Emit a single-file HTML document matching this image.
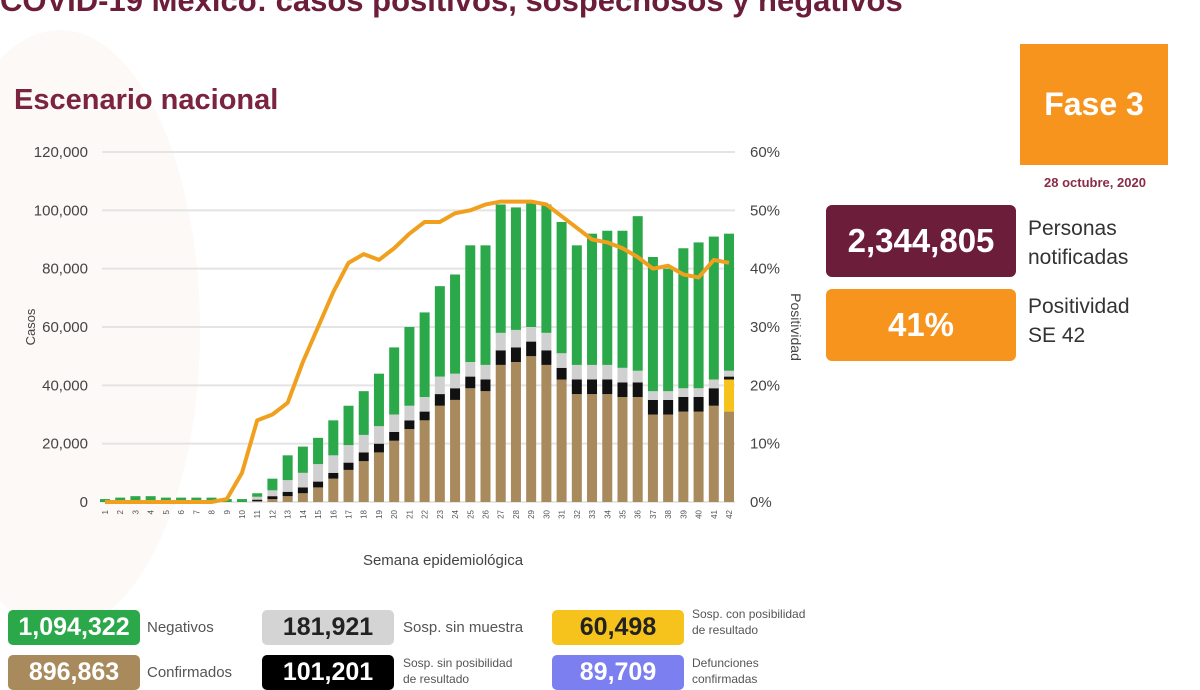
<!DOCTYPE html>
<html><head><meta charset="utf-8"><style>
html,body{margin:0;padding:0;width:1200px;height:674px;overflow:hidden;background:#fff;font-family:"Liberation Sans",sans-serif}
.abs{position:absolute}
.box{position:absolute;border-radius:5px;color:#fff;font-weight:bold;text-align:center;font-size:25px;line-height:35px;height:35px;width:132px}
.lab{position:absolute;font-size:15px;color:#555}
.sm{position:absolute;font-size:12px;color:#555;line-height:16px}
</style></head><body>
<svg class="abs" style="left:0;top:0" width="1200" height="674">
<ellipse cx="60" cy="330" rx="140" ry="300" fill="#f6efe6" opacity="0.35"/>
<g id="g"></g>
</svg>
<div class="abs" style="left:0;top:-17px;font-size:31px;font-weight:bold;color:#6b1d3a;white-space:nowrap">COVID-19 México: casos positivos, sospechosos y negativos</div>
<div class="abs" style="left:14px;top:84px;font-size:29px;font-weight:bold;color:#7a2440">Escenario nacional</div>
<div class="abs" style="left:1020px;top:44px;width:148px;height:121px;background:#f7941d;color:#fff;font-size:32px;font-weight:bold;text-align:center;line-height:121px">Fase 3</div>
<div class="abs" style="left:1020px;top:175px;width:150px;text-align:center;font-size:13px;font-weight:bold;color:#8a2c47">28 octubre, 2020</div>
<div class="abs" style="left:826px;top:205px;width:190px;height:72px;background:#6b1d3a;border-radius:6px;color:#fff;font-size:33px;font-weight:bold;text-align:center;line-height:72px">2,344,805</div>
<div class="abs" style="left:1028px;top:214px;font-size:21px;line-height:29px;color:#333">Personas<br>notificadas</div>
<div class="abs" style="left:826px;top:289px;width:190px;height:72px;background:#f7941d;border-radius:6px;color:#fff;font-size:33px;font-weight:bold;text-align:center;line-height:72px">41%</div>
<div class="abs" style="left:1028px;top:292px;font-size:21px;line-height:29px;color:#333">Positividad<br>SE 42</div>
<div class="box" style="left:8px;top:610px;background:#2aa84a">1,094,322</div>
<div class="lab" style="left:147px;top:619px">Negativos</div>
<div class="box" style="left:262px;top:610px;background:#d4d4d4;color:#222">181,921</div>
<div class="lab" style="left:403px;top:619px">Sosp. sin muestra</div>
<div class="box" style="left:552px;top:610px;background:#f6c21c;color:#222">60,498</div>
<div class="sm" style="left:692px;top:606px">Sosp. con posibilidad<br>de resultado</div>
<div class="box" style="left:8px;top:655px;background:#a88a5c">896,863</div>
<div class="lab" style="left:147px;top:664px">Confirmados</div>
<div class="box" style="left:262px;top:655px;background:#000">101,201</div>
<div class="sm" style="left:403px;top:655px">Sosp. sin posibilidad<br>de resultado</div>
<div class="box" style="left:552px;top:655px;background:#7b7ff0">89,709</div>
<div class="sm" style="left:692px;top:655px">Defunciones<br>confirmadas</div>
<script>
var tot=[1,1.5,2,2,1.5,1.5,1.5,1.5,1,1,3,8,16,19,22,28,33,38,44,53,60,65,74,78,88,88,102,101,103,102,96,88,92,93,93,98,84,80,87,89,91,92];
var con=[0,0,0,0,0,0,0,0,0,0,.3,1,2,3,5,8,11,14,17,21,25,28,33,35,39,38,47,48,50,47,42,37,37,37,36,36,30,30,31,31,33,31];
var blk=[0,0,0,0,0,0,0,0,0,0,.5,1,1.5,2,2,2,2.5,3,3,3,3,3,4,4,4,4,5,5,5,5,4,5,5,5,5,5,5,5,5,5,6,1];
var gry=[0,0,0,0,0,0,0,0,0,0,1,2,4,5,6,6,6,6,6,6,5,5,6,5,5,5,6,6,5,6,5,5,5,5,5,4,3,3,3,3,3,2];
var yel=[];for(var i=0;i<42;i++)yel.push(i==41?11:0);
var pos=[0,0,0,0,0,0,0,0,.5,5,14,15,17,24,30,36,41,42.5,41.5,43.5,46,48,48,49.5,50,51,51.5,51.5,51.5,51,49,47,45,44.5,43.5,42,40,40.5,39,38.5,41.5,41];
var Y=function(v){return 502-v*350/120};var P=function(v){return 502-v*350/60};
var s='';
for(var k=1;k<=6;k++){var y=Y(k*20);s+='<line x1="102" x2="735" y1="'+y+'" y2="'+y+'" stroke="#e4e4e4" stroke-width="2"/>';}
var st='font-family:Liberation Sans;font-size:15px;fill:#444';
for(var k=0;k<=6;k++){var y=Y(k*20)+5;s+='<text x="88" y="'+y+'" text-anchor="end" style="'+st+'">'+(k?(k*20)+',000':'0')+'</text>';s+='<text x="750" y="'+y+'" style="'+st+'">'+(k*10)+'%</text>';}
s+='<line x1="102" x2="735" y1="502" y2="502" stroke="#ccc"/>';
var pts=[];
for(var i=0;i<42;i++){var cx=105+i*15.22,x=cx-5,w=10;
 var segs=[[con[i],'#a88a5c'],[yel[i],'#f6c21c'],[blk[i],'#111'],[gry[i],'#d0d0d0']];var b=0;
 segs.forEach(function(q){if(q[0]>0){s+='<rect x="'+x+'" y="'+Y(b+q[0])+'" width="'+w+'" height="'+(Y(b)-Y(b+q[0]))+'" fill="'+q[1]+'"/>';b+=q[0];}});
 if(tot[i]>b)s+='<rect x="'+x+'" y="'+Y(tot[i])+'" width="'+w+'" height="'+(Y(b)-Y(tot[i]))+'" fill="#2aa84a"/>';
 pts.push(cx+','+P(pos[i]));
 s+='<text transform="translate('+(cx+3)+',510) rotate(-90)" text-anchor="end" style="font-family:Liberation Sans;font-size:8px;fill:#555">'+(i+1)+'</text>';}
s+='<polyline points="'+pts.join(' ')+'" fill="none" stroke="#f0a01e" stroke-width="4" stroke-linejoin="round"/>';
s+='<text x="443" y="565" text-anchor="middle" style="'+st+'">Semana epidemiológica</text>';
s+='<text transform="translate(35,327) rotate(-90)" text-anchor="middle" style="font-family:Liberation Sans;font-size:13px;fill:#444">Casos</text>';
s+='<text transform="translate(791,327) rotate(90)" text-anchor="middle" style="font-family:Liberation Sans;font-size:14px;fill:#444">Positividad</text>';
document.getElementById('g').innerHTML=s;
</script>
</body></html>
